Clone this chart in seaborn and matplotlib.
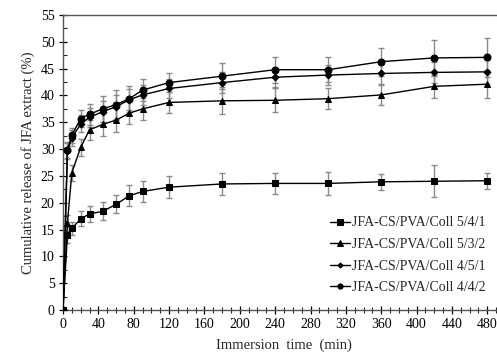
import numpy as np
import pandas as pd
import matplotlib
matplotlib.use('Agg')
import matplotlib.pyplot as plt
import seaborn as sns
from matplotlib.ticker import MultipleLocator

sns.set_style('ticks')
plt.rcParams['font.family'] = ['Liberation Serif', 'DejaVu Serif']

# 釋放時間 (min)
time_min = [0, 5, 10, 20, 30, 45, 60, 75, 90, 120, 180, 240, 300, 360, 420, 480]

# 各配方累積釋放量 (%)
rel_541 = [0, 14.0, 15.2, 17.0, 17.9, 18.4, 19.7, 21.3, 22.1, 22.9, 23.5, 23.6, 23.6, 23.9, 24.0, 24.1]
rel_532 = [0, 16.2, 25.6, 30.3, 33.6, 34.6, 35.4, 36.7, 37.5, 38.7, 39.0, 39.1, 39.4, 40.1, 41.7, 42.1]
rel_451 = [0, 29.6, 32.1, 34.7, 35.9, 37.0, 37.9, 39.2, 40.1, 41.3, 42.4, 43.4, 43.8, 44.1, 44.3, 44.4]
rel_442 = [0, 29.9, 32.6, 35.7, 36.5, 37.5, 38.3, 39.4, 41.0, 42.4, 43.6, 44.8, 44.8, 46.3, 47.0, 47.1]

# 標準差
err_541 = [0, 1.5, 1.3, 1.4, 1.5, 1.7, 1.7, 2.0, 2.0, 2.1, 2.1, 1.9, 2.2, 1.5, 3.0, 1.5]
err_532 = [0, 1.5, 1.5, 1.5, 1.9, 2.2, 2.2, 2.0, 2.0, 1.9, 2.5, 2.2, 1.9, 1.8, 2.2, 2.6]
err_451 = [0, 1.5, 1.5, 1.6, 1.8, 2.0, 2.2, 2.0, 1.8, 1.7, 1.9, 1.8, 1.8, 1.9, 2.0, 2.2]
err_442 = [0, 1.5, 1.4, 1.6, 2.0, 2.4, 2.8, 2.4, 2.0, 1.8, 2.4, 2.4, 2.3, 2.6, 3.4, 3.6]

labels = ['JFA-CS/PVA/Coll 5/4/1', 'JFA-CS/PVA/Coll 5/3/2',
          'JFA-CS/PVA/Coll 4/5/1', 'JFA-CS/PVA/Coll 4/4/2']
markers = ['s', '^', 'D', 'o']
msizes = [5, 5, 3.5, 5]

series = [rel_541, rel_532, rel_451, rel_442]
errors = [err_541, err_532, err_451, err_442]

df = pd.concat([pd.DataFrame({'time': time_min, 'release': s, 'sample': lab})
                for s, lab in zip(series, labels)])

fig = plt.figure(figsize=(4.97, 3.58), dpi=100)
ax = fig.add_axes([63 / 497, 48 / 358, 442 / 497, 295 / 358])

# 誤差線
for s, e in zip(series, errors):
    ax.errorbar(time_min, s, yerr=e, fmt='none', ecolor='#8a8a8a',
                elinewidth=1.0, capsize=2.3, capthick=1.0, zorder=1)

for lab, m, ms in zip(labels, markers, msizes):
    sub = df[df['sample'] == lab]
    sns.lineplot(data=sub, x='time', y='release', ax=ax, color='black',
                 marker=m, markersize=ms, markeredgecolor='black',
                 linewidth=1.0, label=lab, zorder=3)

ax.set_xlim(0, 500)
ax.set_ylim(0, 55)
ax.xaxis.set_major_locator(MultipleLocator(40))
ax.xaxis.set_minor_locator(MultipleLocator(10))
ax.yaxis.set_major_locator(MultipleLocator(5))
ax.yaxis.set_minor_locator(MultipleLocator(2.5))
ax.tick_params(which='major', direction='inout', length=6, width=0.9,
               labelsize=10, colors='black', pad=3)
ax.tick_params(which='minor', direction='in', length=3, width=0.8)
ax.tick_params(axis='x', which='minor', direction='inout', length=4)

for side in ['left', 'bottom', 'top']:
    ax.spines[side].set_color('#555555')
    ax.spines[side].set_linewidth(1.0)
ax.spines['right'].set_visible(False)

ax.set_xlabel('Immersion  time  (min)', fontsize=10.5, labelpad=5)
ax.set_ylabel('Cumulative release of JFA extract (%)', fontsize=10.5, labelpad=4)

ax.legend(loc='lower right', bbox_to_anchor=(0.975, 0.025),
          frameon=False, fontsize=10, handlelength=1.4, handletextpad=0.15,
          labelspacing=0.62, borderaxespad=0.2, markerscale=0.75)

fig.savefig('out.png', dpi=100)
